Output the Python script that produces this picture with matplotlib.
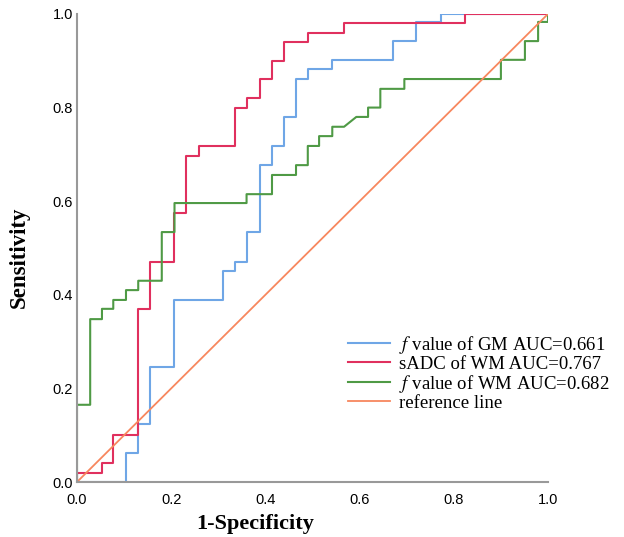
import matplotlib
matplotlib.use("Agg")
import matplotlib.pyplot as plt

# ROC vertices (1-specificity, sensitivity)
gm_f_fpr = [0, 0.104, 0.104, 0.13, 0.13, 0.156, 0.156, 0.207, 0.207, 0.31, 0.31, 0.335, 0.335,
            0.36, 0.36, 0.388, 0.388, 0.414, 0.414, 0.439, 0.439, 0.465, 0.465, 0.49, 0.49,
            0.542, 0.542, 0.67, 0.67, 0.72, 0.72, 0.772, 0.772, 1.0]
gm_f_tpr = [0, 0, 0.062, 0.062, 0.124, 0.124, 0.246, 0.246, 0.389, 0.389, 0.45, 0.45, 0.47,
            0.47, 0.534, 0.534, 0.677, 0.677, 0.718, 0.718, 0.78, 0.78, 0.861, 0.861, 0.882,
            0.882, 0.902, 0.902, 0.942, 0.942, 0.983, 0.983, 1.0, 1.0]

wm_sadc_fpr = [0, 0, 0.053, 0.053, 0.077, 0.077, 0.13, 0.13, 0.156, 0.156, 0.207, 0.207,
               0.232, 0.232, 0.258, 0.258, 0.335, 0.335, 0.36, 0.36, 0.388, 0.388, 0.414,
               0.414, 0.439, 0.439, 0.49, 0.49, 0.567, 0.567, 0.823, 0.823, 1.0]
wm_sadc_tpr = [0, 0.02, 0.02, 0.04, 0.04, 0.10, 0.10, 0.37, 0.37, 0.47, 0.47, 0.575,
               0.575, 0.697, 0.697, 0.718, 0.718, 0.80, 0.80, 0.82, 0.82, 0.86, 0.86,
               0.90, 0.90, 0.94, 0.94, 0.96, 0.96, 0.98, 0.98, 1.0, 1.0]

wm_f_fpr = [0, 0, 0.028, 0.028, 0.053, 0.053, 0.077, 0.077, 0.104, 0.104, 0.13, 0.13, 0.18,
            0.18, 0.207, 0.207, 0.36, 0.36, 0.414, 0.414, 0.465, 0.465, 0.49, 0.49, 0.514,
            0.514, 0.542, 0.542, 0.567, 0.593, 0.618, 0.618, 0.644, 0.644, 0.695, 0.695,
            0.9, 0.9, 0.951, 0.951, 0.979, 0.979, 1.0, 1.0]
wm_f_tpr = [0, 0.165, 0.165, 0.348, 0.348, 0.37, 0.37, 0.389, 0.389, 0.41, 0.41, 0.43, 0.43,
            0.534, 0.534, 0.596, 0.596, 0.615, 0.615, 0.656, 0.656, 0.677, 0.677, 0.718,
            0.718, 0.739, 0.739, 0.759, 0.759, 0.78, 0.78, 0.80, 0.80, 0.84, 0.84, 0.861,
            0.861, 0.902, 0.902, 0.942, 0.942, 0.983, 0.983, 1.0]

ref_x = [0, 1]
ref_y = [0, 1]

ticks = [0.0, 0.2, 0.4, 0.6, 0.8, 1.0]

plt.rcParams["mathtext.fontset"] = "stix"

fig = plt.figure(figsize=(6.24, 5.37), dpi=100)
ax = fig.add_axes([0.1234, 0.1024, 0.7548, 0.8716])

ax.plot(gm_f_fpr, gm_f_tpr, color="#6fa6e6", lw=1.5, label=r"$f$ value of GM AUC=0.661")
ax.plot(wm_sadc_fpr, wm_sadc_tpr, color="#e0305e", lw=1.5, label="sADC of WM AUC=0.767")
ax.plot(wm_f_fpr, wm_f_tpr, color="#4f9a45", lw=1.5, label=r"$f$ value of WM AUC=0.682")
ax.plot(ref_x, ref_y, color="#f7875e", lw=1.3, label="reference line")

ax.set_xlim(0, 1)
ax.set_ylim(0, 1)
ax.set_xticks(ticks)
ax.set_yticks(ticks)
ax.set_xticklabels([f"{t:.1f}" for t in ticks], family="Liberation Sans", fontsize=10.5)
ax.set_yticklabels([f"{t:.1f}" for t in ticks], family="Liberation Sans", fontsize=10.5)
ax.tick_params(axis="x", length=0, pad=8)
ax.tick_params(axis="y", length=0, pad=3)

for s in ["top", "right"]:
    ax.spines[s].set_visible(False)
for s in ["left", "bottom"]:
    ax.spines[s].set_color("#999999")
    ax.spines[s].set_linewidth(1.5)

ax.set_xlabel("1-Specificity", family="Liberation Serif", fontweight="bold", fontsize=16)
ax.set_ylabel("Sensitivity", family="Liberation Serif", fontweight="bold", fontsize=16.5)
ax.xaxis.set_label_coords(0.378, -0.068)
ax.yaxis.set_label_coords(-0.10, 0.48)

leg = ax.legend(loc="upper left", bbox_to_anchor=(0.56, 0.333), frameon=False,
                prop={"family": "Liberation Serif", "size": 13.5},
                handlelength=2.2, handletextpad=0.5, labelspacing=0.0, borderaxespad=0)

fig.savefig("out.png", dpi=100)
